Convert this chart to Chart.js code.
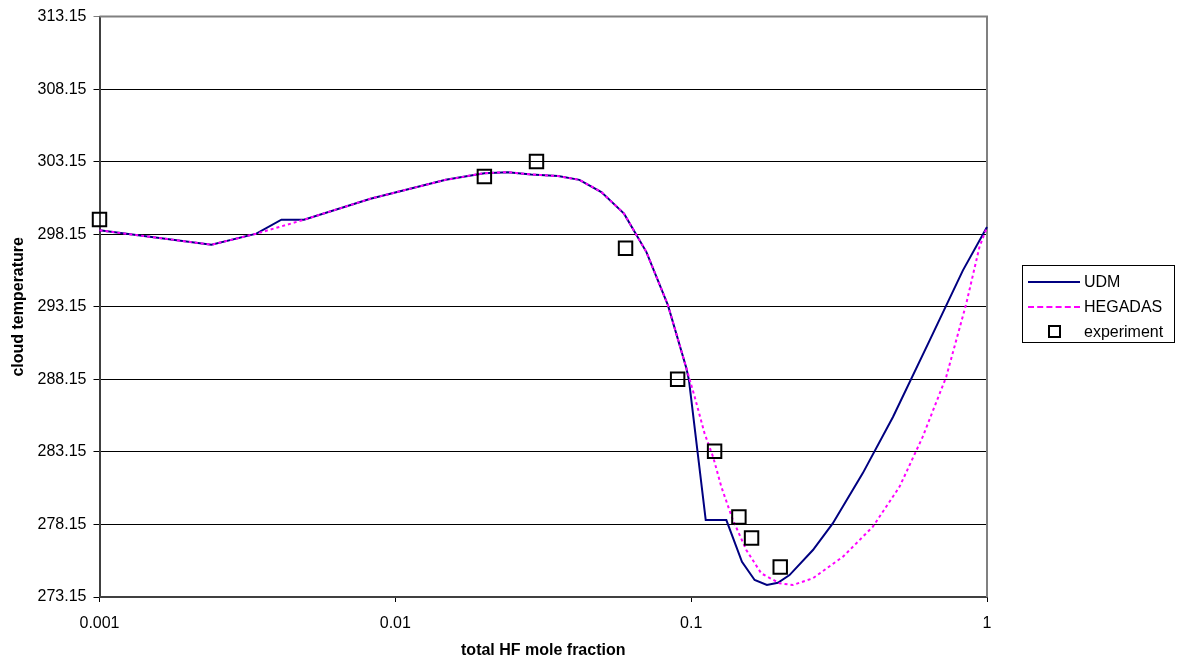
<!DOCTYPE html>
<html>
<head>
<meta charset="utf-8">
<script src="https://cdn.jsdelivr.net/npm/chart.js@4.4.0/dist/chart.umd.min.js"></script>
<style>
    body { margin: 0; background: #fff; }
    #wrap { position: relative; width: 1182px; height: 662px; }
    #legend {
        position: absolute; left: 1022px; top: 265px; width: 151px; height: 76px;
        border: 1px solid #000; background: #fff;
        font: 16px "Liberation Sans", Arial, sans-serif; color: #000;
    }
    .row { position: absolute; left: 0; height: 25px; display: flex; align-items: center; }
    .sample { width: 52px; margin-left: 5px; margin-right: 4px; display: flex; justify-content: center; align-items: center; }
    .sample .ln { width: 52px; height: 0; }
    .sample .sq { width: 9px; height: 9px; border: 2px solid #000; }
</style>
</head>
<body>
<div id="wrap">
    <canvas id="myChart" width="1182" height="662"></canvas>
    <div id="legend"></div>
</div>
<script>
'use strict';

// model curves and measured points (x: total HF mole fraction, y: cloud temperature in K)
var udmX = [0.001, 0.00239, 0.00339, 0.00412, 0.00491, 0.00824, 0.0148, 0.020, 0.024, 0.0288, 0.0355, 0.0419,
    0.0497, 0.0593, 0.0706, 0.0835, 0.0964, 0.0983, 0.112, 0.1315, 0.1485, 0.1639, 0.1803, 0.1964, 0.215,
    0.258, 0.301, 0.380, 0.481, 0.640, 0.829, 1];
var udmT = [298.42, 297.43, 298.19, 299.15, 299.15, 300.6, 301.9, 302.36, 302.43, 302.27, 302.16, 301.9,
    301.06, 299.57, 296.92, 293.25, 288.9, 288.09, 278.45, 278.45, 275.58, 274.32, 273.98, 274.13, 274.66,
    276.39, 278.22, 281.67, 285.56, 290.84, 295.66, 298.65];

var hegX = [0.001, 0.00239, 0.00339, 0.00491, 0.00824, 0.0148, 0.020, 0.024, 0.0288, 0.0355, 0.0419, 0.0497,
    0.0593, 0.0706, 0.0835, 0.0964, 0.1028, 0.111, 0.1186, 0.1265, 0.1384, 0.1536, 0.1725, 0.199, 0.221,
    0.258, 0.326, 0.411, 0.506, 0.606, 0.728, 0.851, 0.943, 1];
var hegT = [298.42, 297.43, 298.19, 299.15, 300.6, 301.9, 302.36, 302.43, 302.27, 302.16, 301.9, 301.06,
    299.57, 296.92, 293.25, 288.9, 286.94, 284.42, 282.81, 280.74, 278.45, 276.39, 274.78, 274.09, 273.98,
    274.44, 275.93, 277.99, 280.74, 284.18, 288.32, 293.37, 297.27, 298.65];

var expX = [0.001, 0.02, 0.03, 0.06, 0.09, 0.12, 0.145, 0.16, 0.2];
var expT = [299.17, 302.13, 303.17, 297.18, 288.16, 283.2, 278.66, 277.21, 275.22];

var xTicks = [0.001, 0.01, 0.1, 1];
var yTicks = [273.15, 278.15, 283.15, 288.15, 293.15, 298.15, 303.15, 308.15, 313.15];

var FONT = '"Liberation Sans", Arial, sans-serif';

function toPoints(xs, ys) {
    var pts = [];
    for (var i = 0; i < xs.length; i++) {
        pts.push({ x: xs[i], y: ys[i] });
    }
    return pts;
}

// grey frame on the top and right side of the plot area
var plotFrame = {
    id: 'plotFrame',
    beforeDatasetsDraw: function (chart) {
        var a = chart.chartArea;
        var ctx = chart.ctx;
        ctx.save();
        ctx.strokeStyle = '#808080';
        ctx.lineWidth = 2;
        ctx.beginPath();
        ctx.moveTo(a.left, a.top);
        ctx.lineTo(a.right, a.top);
        ctx.lineTo(a.right, a.bottom);
        ctx.stroke();
        ctx.restore();
    }
};

var ctx = document.getElementById('myChart').getContext('2d');
var chart = new Chart(ctx, {
    type: 'scatter',
    data: {
        datasets: [{
            label: 'UDM',
            data: toPoints(udmX, udmT),
            showLine: true,
            borderColor: '#000080',
            borderWidth: 2,
            pointRadius: 0,
            clip: false,
            order: 2
        }, {
            label: 'HEGADAS',
            data: toPoints(hegX, hegT),
            showLine: true,
            borderColor: '#FF00FF',
            borderWidth: 2,
            borderDash: [3, 3],
            pointRadius: 0,
            clip: false,
            order: 1
        }, {
            label: 'experiment',
            data: toPoints(expX, expT),
            showLine: false,
            pointStyle: 'rect',
            pointRadius: 9.5,
            borderColor: '#000',
            borderWidth: 2,
            backgroundColor: 'rgba(0,0,0,0)',
            clip: false,
            order: 0
        }]
    },
    options: {
        responsive: false,
        animation: false,
        layout: { padding: { left: 9, right: 195, top: 16, bottom: 2 } },
        plugins: {
            legend: { display: false },
            tooltip: { enabled: false }
        },
        scales: {
            x: {
                type: 'logarithmic',
                min: 0.001,
                max: 1,
                afterBuildTicks: function (scale) {
                    scale.ticks = xTicks.map(function (v) { return { value: v }; });
                },
                afterFit: function (scale) { scale.height = 63; },
                grid: { drawOnChartArea: false, drawTicks: true, tickLength: 5, color: '#000' },
                border: { color: '#404040', width: 2 },
                ticks: {
                    color: '#000',
                    font: { family: FONT, size: 16 },
                    padding: 12,
                    maxRotation: 0,
                    autoSkip: false,
                    callback: function (v) { return String(v); }
                },
                title: {
                    display: true,
                    text: 'total HF mole fraction',
                    color: '#000',
                    font: { family: FONT, size: 16, weight: 'bold' },
                    padding: 0
                }
            },
            y: {
                min: 273.15,
                max: 313.15,
                afterBuildTicks: function (scale) {
                    scale.ticks = yTicks.map(function (v) { return { value: v }; });
                },
                afterFit: function (scale) { scale.width = 90.5; },
                grid: {
                    tickLength: 6,
                    lineWidth: 1,
                    color: function (c) {
                        return c.tick && c.tick.value === 313.15 ? '#808080' : '#000';
                    }
                },
                border: { color: '#404040', width: 2 },
                ticks: {
                    color: '#000',
                    font: { family: FONT, size: 16 },
                    padding: 7,
                    callback: function (v) { return Number(v).toFixed(2); }
                },
                title: {
                    display: true,
                    text: 'cloud temperature',
                    color: '#000',
                    font: { family: FONT, size: 16, weight: 'bold' },
                    padding: 0
                }
            }
        }
    },
    plugins: [plotFrame]
});

// legend built from the datasets
var legendBox = document.getElementById('legend');
chart.data.datasets.forEach(function (ds, i) {
    var row = document.createElement('div');
    row.className = 'row';
    row.style.top = (3 + i * 25) + 'px';
    var sample = document.createElement('div');
    sample.className = 'sample';
    var mark = document.createElement('div');
    if (ds.showLine) {
        mark.className = 'ln';
        mark.style.borderTop = ds.borderWidth + 'px ' + (ds.borderDash ? 'dashed ' : 'solid ') + ds.borderColor;
    } else {
        mark.className = 'sq';
    }
    sample.appendChild(mark);
    var label = document.createElement('span');
    label.textContent = ds.label;
    row.appendChild(sample);
    row.appendChild(label);
    legendBox.appendChild(row);
});
</script>
</body>
</html>
